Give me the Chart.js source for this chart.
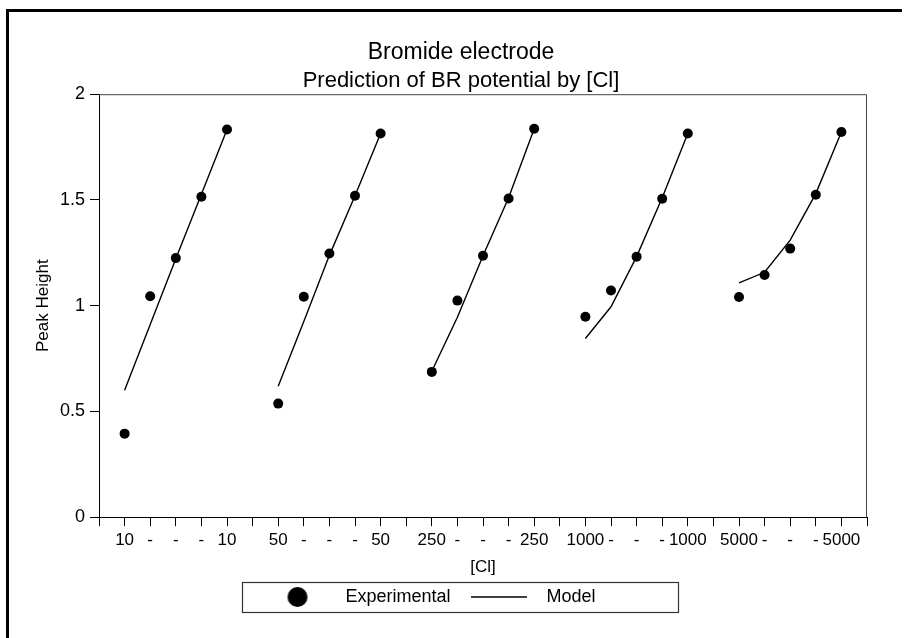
<!DOCTYPE html>
<html>
<head>
<meta charset="utf-8">
<title>Bromide electrode</title>
<script src="https://cdn.jsdelivr.net/npm/chart.js@4.4.1/dist/chart.umd.min.js"></script>
<style>
  html, body { margin: 0; padding: 0; background: #fff; }
  #wrap { position: relative; width: 907px; height: 638px; overflow: hidden; }
  #frame { position: absolute; left: 6px; top: 9px; width: 896px; height: 700px;
           border-left: 3px solid #000; border-top: 3px solid #000; box-sizing: border-box; }
  canvas { position: absolute; left: 0; top: 0; }
</style>
</head>
<body>
<div id="wrap">
  <div id="frame"></div>
  <canvas id="chart" width="907" height="638"></canvas>
</div>
<script>
// [Cl] levels, five readings each, one empty slot between levels
const groups = ['10', '50', '250', '1000', '5000'];
const tickLabels = ['',
  '10', '-', '-', '-', '10', '',
  '50', '-', '-', '-', '50', '',
  '250', '-', '-', '-', '250', '',
  '1000', '-', '-', '-', '1000', '',
  '5000', '-', '-', '-', '5000', ''];

const experimental = [
  [0.395, 1.045, 1.225, 1.515, 1.833],
  [0.537, 1.042, 1.247, 1.520, 1.814],
  [0.687, 1.024, 1.236, 1.507, 1.837],
  [0.948, 1.072, 1.232, 1.506, 1.814],
  [1.041, 1.145, 1.270, 1.525, 1.821]
];

const model = [
  [0.600, 0.911, 1.222, 1.527, 1.833],
  [0.619, 0.925, 1.238, 1.520, 1.814],
  [0.690, 0.945, 1.236, 1.510, 1.837],
  [0.845, 0.995, 1.232, 1.510, 1.814],
  [1.108, 1.158, 1.310, 1.530, 1.821]
];

const FONT = "'Liberation Sans', Arial, Helvetica, sans-serif";
Chart.defaults.font.family = FONT;
Chart.defaults.color = '#000';

// lay each group out on its slots, nulls break the model line between groups
function spread(rows) {
  const out = new Array(tickLabels.length).fill(null);
  rows.forEach((row, g) => row.forEach((v, i) => { out[1 + g * 6 + i] = v; }));
  return out;
}

// legend symbols
function dotIcon() {
  const c = document.createElement('canvas');
  c.width = 22; c.height = 22;
  const x = c.getContext('2d');
  x.fillStyle = '#000';
  x.beginPath(); x.arc(11, 11, 10, 0, Math.PI * 2); x.fill();
  return c;
}
function lineIcon() {
  const c = document.createElement('canvas');
  c.width = 56; c.height = 4;
  const x = c.getContext('2d');
  x.strokeStyle = '#000'; x.lineWidth = 1.5;
  x.beginPath(); x.moveTo(0, 2); x.lineTo(56, 2); x.stroke();
  return c;
}
const icons = [dotIcon(), lineIcon()];

const LEGEND_SHIFT_X = -34;
const LEGEND_SHIFT_Y = -4;

// box around the plot and around the legend
const frames = {
  id: 'frames',
  afterLayout(chart) {
    const lg = chart.legend;
    lg.left += LEGEND_SHIFT_X;
    lg.right += LEGEND_SHIFT_X;
    lg.top += LEGEND_SHIFT_Y;
    lg.bottom += LEGEND_SHIFT_Y;
  },
  afterDraw(chart) {
    const { ctx, chartArea: a } = chart;
    ctx.save();
    ctx.strokeStyle = '#444';
    ctx.lineWidth = 1;
    ctx.beginPath();
    ctx.moveTo(a.left, a.top + 0.5);
    ctx.lineTo(a.right - 0.5, a.top + 0.5);
    ctx.lineTo(a.right - 0.5, a.bottom);
    ctx.stroke();

    const boxes = chart.legend.legendHitBoxes;
    if (boxes && boxes.length) {
      const first = boxes[0], last = boxes[boxes.length - 1];
      const cy = first.top + first.height / 2;
      const x0 = Math.round(first.left - 16) + 0.5;
      const x1 = Math.round(last.left + last.width + 82) + 0.5;
      ctx.strokeStyle = '#333';
      ctx.lineWidth = 1.2;
      ctx.strokeRect(x0, Math.round(cy - 15) + 0.5, x1 - x0, 30);
    }
    ctx.restore();
  }
};

new Chart(document.getElementById('chart').getContext('2d'), {
  type: 'line',
  data: {
    labels: tickLabels,
    datasets: [
      {
        label: 'Experimental',
        data: spread(experimental),
        showLine: false,
        pointStyle: 'circle',
        pointRadius: 5,
        pointBackgroundColor: '#000',
        pointBorderColor: '#000',
        pointBorderWidth: 0
      },
      {
        label: 'Model',
        data: spread(model),
        borderColor: '#000',
        borderWidth: 1.4,
        pointRadius: 0,
        spanGaps: false,
        tension: 0
      }
    ]
  },
  plugins: [frames],
  options: {
    responsive: false,
    animation: false,
    layout: { padding: { left: 55, right: 40, top: 0, bottom: 18 } },
    plugins: {
      title: {
        display: true,
        text: 'Bromide electrode',
        font: { size: 23, weight: 'normal' },
        padding: { top: 38.5, bottom: 0 }
      },
      subtitle: {
        display: true,
        text: 'Prediction of BR potential by [Cl]',
        color: '#000',
        font: { size: 22, weight: 'normal' },
        padding: { top: 1.7, bottom: 0 }
      },
      legend: {
        position: 'bottom',
        labels: {
          usePointStyle: true,
          pointStyleWidth: 78,
          padding: 9,
          font: { size: 18 },
          generateLabels(chart) {
            const items = Chart.defaults.plugins.legend.labels.generateLabels(chart);
            items.forEach((it, i) => { it.pointStyle = icons[i]; });
            return items;
          }
        }
      },
      tooltip: { enabled: false }
    },
    scales: {
      x: {
        type: 'category',
        offset: false,
        grid: { drawOnChartArea: false, tickLength: 9, color: '#000' },
        border: { display: true, color: '#000', width: 1 },
        ticks: { autoSkip: false, maxRotation: 0, padding: 4, font: { size: 17 } },
        title: { display: true, text: '[Cl]', font: { size: 17 }, padding: { top: 3, bottom: 5 } }
      },
      y: {
        min: 0,
        max: 2,
        afterFit(scale) { scale.width = 44; },
        grid: { drawOnChartArea: false, tickLength: 9, color: '#000' },
        border: { display: true, color: '#000', width: 1 },
        ticks: {
          stepSize: 0.5,
          padding: 5,
          font: { size: 18 },
          callback: (v) => String(Math.round(v * 100) / 100)
        },
        title: { display: true, text: 'Peak Height', font: { size: 17 }, padding: { top: -22, bottom: 0 } }
      }
    }
  }
});
</script>
</body>
</html>
